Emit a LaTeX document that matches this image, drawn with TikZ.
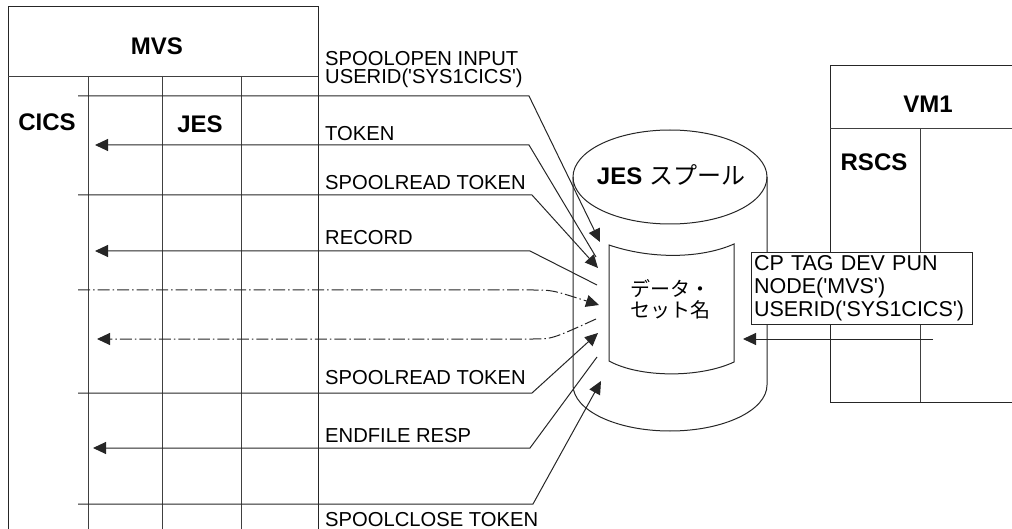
\documentclass[tikz,border=0pt]{standalone}
\usepackage{fontspec}
\setmainfont{Liberation Sans}
\newfontfamily\cjk{Noto Sans CJK JP}
\usetikzlibrary{arrows.meta}
\newcommand{\myq}{\textquotesingle}
\begin{document}
\begin{tikzpicture}[x=1pt,y=-1pt,
  ln/.style={line width=1pt, draw=black!85},
  grd/.style={line width=0.9pt, draw=black!75},
  tipend/.style={-{Triangle[length=13pt,width=12pt]}},
  dd/.style={dash pattern=on 12pt off 3pt on 1.5pt off 3pt},
  lbl/.style={font=\fontsize{20.2}{18}\selectfont, inner sep=0pt, anchor=base west, align=left},
  bold/.style={font=\fontsize{24}{28}\selectfont\bfseries, inner sep=0pt, anchor=base},
]
\useasboundingbox (0,0) rectangle (1012,529);

% ---------- MVS ----------
\draw[ln] (8,529) -- (8,7) -- (318,7) -- (318,529);
\draw[grd] (8,76) -- (318,76);
\foreach \xx in {88,162,241} \draw[grd] (\xx,76) -- (\xx,529);
\node[bold] (mvs) at (157,55) {MVS};
\node[bold] (cics) at (47,131) {CICS};
\node[bold] (jes) at (200,133) {JES};

% ---------- cylinder ----------
\draw[ln] (670,177) ellipse [x radius=97pt, y radius=47pt];
\draw[ln] (573,177) -- (573,385) arc[start angle=180, end angle=360, x radius=97pt, y radius=46pt] -- (767,177);
\node[bold] (spool) at (671,185) {JES {\cjk\mdseries スプール}};
\draw[ln] (609,245) .. controls (650,259) and (700,259) .. (734,244) -- (734,362)
  .. controls (700,378) and (640,378) .. (609,361) -- cycle;
\node[font=\cjk\fontsize{20}{21}\selectfont, anchor=base west, align=left, inner sep=0pt] (ds) at (630,318) {データ・\\セット名};

% ---------- coordinates ----------
\coordinate (a1) at (78,96);   \coordinate (b1) at (529,96);  \coordinate (c1) at (600,242);
\coordinate (a2) at (95,145);  \coordinate (b2) at (529,145); \coordinate (c2) at (596,257);
\coordinate (a3) at (78,195);  \coordinate (b3) at (532,195); \coordinate (c3) at (598,268);
\coordinate (a4) at (95,251);  \coordinate (b4) at (530,251); \coordinate (c4) at (597,285);
\coordinate (a5) at (78,290);  \coordinate (b5) at (533,290); \coordinate (c5) at (599,305);
\coordinate (a6) at (97,339);  \coordinate (b6) at (533,339); \coordinate (c6) at (596,319);
\coordinate (a7) at (78,393);  \coordinate (b7) at (532,393); \coordinate (c7) at (598,333);
\coordinate (a8) at (93,448);  \coordinate (b8) at (530,448); \coordinate (c8) at (597,357);
\coordinate (a9) at (78,504);  \coordinate (b9) at (533,504); \coordinate (c9) at (601,381);

% ---------- messages ----------
\draw[ln, tipend] (a1) -- (b1) -- (c1);
\draw[ln, tipend] (c2) -- (b2) -- (a2);
\draw[ln, tipend] (a3) -- (b3) -- (c3);
\draw[ln, tipend] (c4) -- (b4) -- (a4);
\draw[ln, dd, tipend] (a5) -- (b5) .. controls (552,290) .. (c5);
\draw[ln, dd, tipend] (c6) .. controls (552,339) .. (b6) -- (a6);
\draw[ln, tipend] (a7) -- (b7) -- (c7);
\draw[ln, tipend] (c8) -- (b8) -- (a8);
\draw[ln, tipend] (a9) -- (b9) -- (c9);

\node[lbl] (l1) at (325,83.5) {SPOOLOPEN INPUT\\USERID(\myq SYS1CICS\myq)};
\node[lbl] (l2) at (325,141) {TOKEN};
\node[lbl] (l3) at (325,190) {SPOOLREAD TOKEN};
\node[lbl] (l4) at (325,245) {RECORD};
\node[lbl] (l7) at (325,384) {SPOOLREAD TOKEN};
\node[lbl] (l8) at (325,442) {ENDFILE RESP};
\node[lbl] (l9) at (325,526) {SPOOLCLOSE TOKEN};

% ---------- VM1 ----------
\draw[ln] (830,402) -- (830,66) -- (1012,66);
\draw[grd] (830,128) -- (1012,128);
\draw[grd] (920,128) -- (920,402);
\draw[ln] (830,402) -- (1012,402);
\node[bold] (vm) at (928,113) {VM1};
\node[bold] (rscs) at (874,171) {RSCS};

\node[ln, draw, fill=white, anchor=north west, text width=216pt, inner xsep=2.5pt, inner ysep=3.4pt, align=left, font=\fontsize{21.5}{23}\selectfont] (cp) at (751,252) {CP TAG DEV PUN\\NODE(\myq MVS\myq)\\USERID(\myq SYS1CICS\myq)};

\coordinate (vs) at (933,339);
\coordinate (ve) at (743,339);
\draw[ln, tipend] (vs) -- (ve);
\end{tikzpicture}
\end{document}
